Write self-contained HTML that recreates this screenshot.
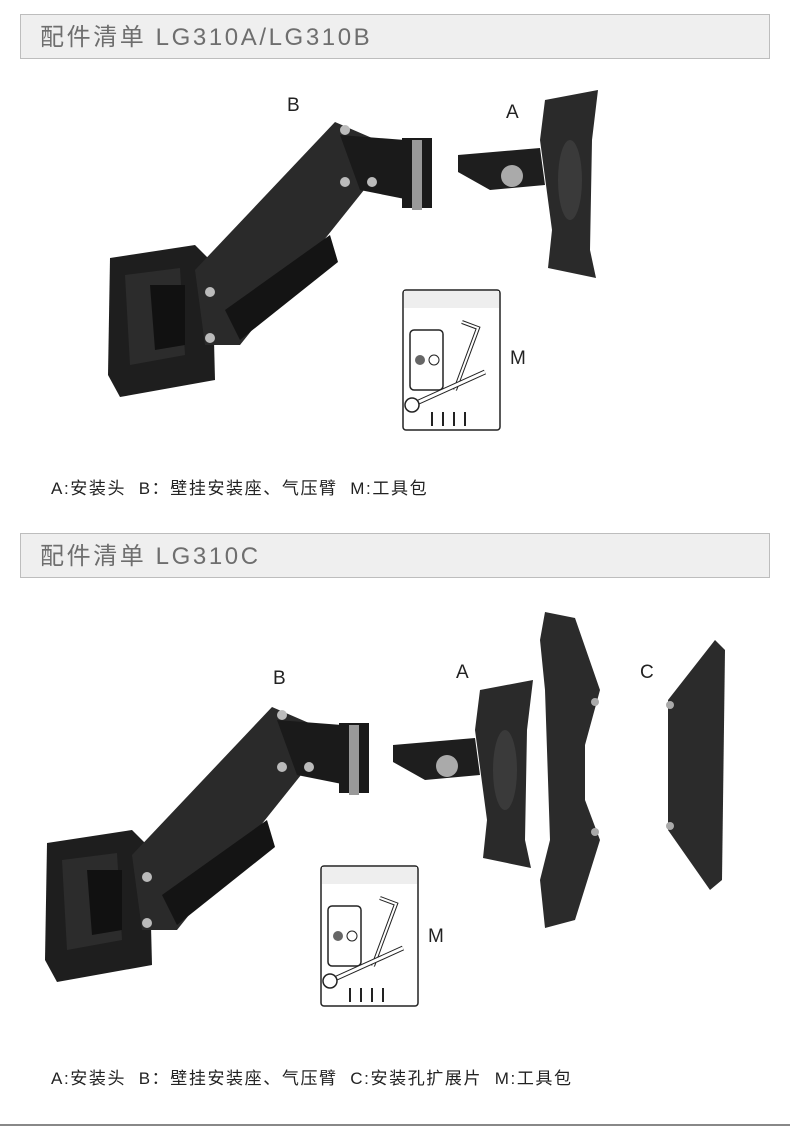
<!DOCTYPE html>
<html><head><meta charset="utf-8"><style>
body{margin:0;width:790px;height:1134px;background:#fff;position:relative;overflow:hidden;font-family:"Liberation Sans","Noto Sans CJK SC",sans-serif}
.hd{position:absolute;left:20px;width:750px;height:45px;background:#efefef;border:1px solid #bdbdbd;color:#6e6e6e;font-size:24px;line-height:45px;box-sizing:border-box;padding-left:19px;letter-spacing:2.6px}
.cap{position:absolute;left:51px;font-size:17px;color:#222;letter-spacing:1.6px;white-space:nowrap}
.lbl{position:absolute;font-size:19px;color:#222}
svg{position:absolute;left:0;top:0}
</style></head><body>
<div class="hd" style="top:14px">配件清单 LG310A/LG310B</div>
<div class="hd" style="top:533px">配件清单 LG310C</div>
<div class="cap" style="top:474px">A:安装头&nbsp;&nbsp;B：壁挂安装座、气压臂&nbsp;&nbsp;M:工具包</div>
<div class="cap" style="top:1064px">A:安装头&nbsp;&nbsp;B：壁挂安装座、气压臂&nbsp;&nbsp;C:安装孔扩展片&nbsp;&nbsp;M:工具包</div>
<div class="lbl" style="left:287px;top:95px">B</div>
<div class="lbl" style="left:506px;top:102px">A</div>
<div class="lbl" style="left:510px;top:348px">M</div>
<div class="lbl" style="left:273px;top:668px">B</div>
<div class="lbl" style="left:456px;top:662px">A</div>
<div class="lbl" style="left:640px;top:662px">C</div>
<div class="lbl" style="left:428px;top:926px">M</div>
<div style="position:absolute;left:0;top:1124px;width:790px;height:2px;background:#888"></div>
<svg width="790" height="1134">
<defs>
<g id="arm">
 <polygon points="110,258 195,245 212,262 215,380 120,397 108,375" fill="#1e1e1e"/>
 <polygon points="125,275 180,268 185,355 130,365" fill="#2c2c2c"/>
 <polygon points="150,285 185,285 185,345 155,350" fill="#111"/>
 <polygon points="195,270 335,122 372,138 380,170 240,345 205,345" fill="#2a2a2a"/>
 <polygon points="225,310 330,235 338,262 240,340" fill="#141414"/>
 <polygon points="340,135 405,140 410,200 360,190" fill="#1a1a1a"/>
 <rect x="402" y="138" width="30" height="70" fill="#1a1a1a"/>
 <rect x="412" y="140" width="10" height="70" fill="#999"/>
 <circle cx="345" cy="130" r="5" fill="#bbb"/><circle cx="345" cy="182" r="5" fill="#bbb"/><circle cx="372" cy="182" r="5" fill="#bbb"/>
 <circle cx="210" cy="292" r="5" fill="#bbb"/><circle cx="210" cy="338" r="5" fill="#bbb"/>
</g>
<g id="head">
 <polygon points="458,155 540,148 545,185 490,190 458,172" fill="#1e1e1e"/>
 <circle cx="512" cy="176" r="11" fill="#aaa"/>
 <polygon points="545,100 598,90 592,140 590,250 596,278 548,268 552,230 540,140" fill="#2a2a2a"/>
 <ellipse cx="570" cy="180" rx="12" ry="40" fill="#3a3a3a"/>
</g>
<g id="tool">
 <rect x="403" y="290" width="97" height="140" rx="3" fill="#fff" stroke="#222" stroke-width="1.5"/>
 <rect x="404" y="291" width="95" height="17" fill="#eee"/>
 <rect x="410" y="330" width="33" height="60" rx="4" fill="none" stroke="#222" stroke-width="1.5"/>
 <circle cx="420" cy="360" r="5" fill="#666"/><circle cx="434" cy="360" r="5" fill="none" stroke="#222"/>
 <path d="M462 322 L478 328 L455 390" fill="none" stroke="#222" stroke-width="4"/>
 <path d="M462 322 L478 328 L455 390" fill="none" stroke="#fff" stroke-width="2"/>
 <path d="M412 405 L485 372" stroke="#222" stroke-width="5"/>
 <path d="M412 405 L485 372" stroke="#fff" stroke-width="3"/>
 <circle cx="412" cy="405" r="7" fill="#fff" stroke="#222" stroke-width="1.5"/>
 <g stroke="#222" stroke-width="2"><path d="M432 412v14M443 412v14M454 412v14M465 412v14"/></g>
</g>
</defs>
<use href="#arm"/>
<use href="#head"/>
<use href="#tool"/>
<use href="#arm" transform="translate(-63,585)"/>
<use href="#head" transform="translate(-65,590)"/>
<use href="#tool" transform="translate(-82,576)"/>
<polygon points="545,612 575,618 600,690 585,745 585,800 600,840 575,920 545,928 540,880 550,840 545,690 540,640" fill="#2b2b2b"/>
<polygon points="668,700 715,640 725,650 722,880 710,890 668,830" fill="#2b2b2b"/>
<circle cx="595" cy="702" r="4" fill="#aaa"/><circle cx="595" cy="832" r="4" fill="#aaa"/>
<circle cx="670" cy="705" r="4" fill="#aaa"/><circle cx="670" cy="826" r="4" fill="#aaa"/>
</svg>
</body></html>
